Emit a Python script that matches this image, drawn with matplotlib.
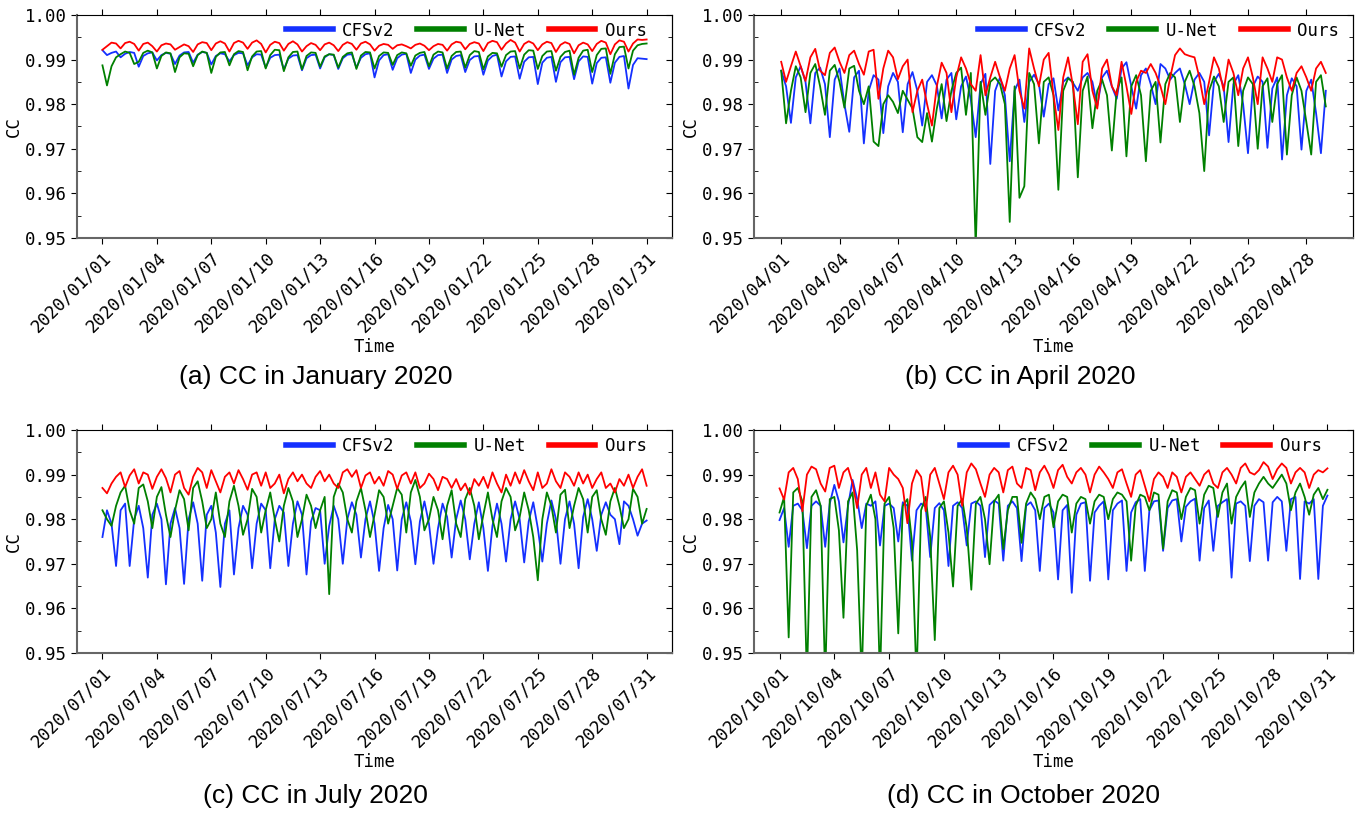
import numpy as np
import pandas as pd
import matplotlib
matplotlib.use("Agg")
import matplotlib.pyplot as plt
import matplotlib.dates as mdates
from matplotlib.ticker import MultipleLocator, FormatStrFormatter

# CC values every 6 hours, stored as (CC - 0.9) * 10000
jan_cfs = [
    921, 910, 915, 918, 905, 913, 917, 915,
    884, 908, 914, 916, 898, 910, 915, 913,
    890, 909, 916, 917, 893, 911, 917, 915,
    889, 908, 914, 912, 896, 910, 915, 914,
    887, 905, 912, 911, 882, 904, 910, 911,
    878, 902, 909, 910, 876, 903, 910, 911,
    880, 905, 912, 910, 879, 903, 911, 912,
    882, 904, 912, 914, 860, 898, 910, 912,
    877, 903, 911, 913, 870, 900, 909, 911,
    879, 902, 910, 911, 870, 900, 908, 910,
    872, 899, 907, 908, 866, 898, 908, 911,
    862, 896, 906, 907, 857, 895, 905, 906,
    845, 893, 904, 906, 850, 894, 905, 906,
    856, 896, 907, 906, 846, 892, 904, 905,
    848, 893, 906, 908, 835, 888, 903, 902,
    901]
jan_unet = [
    887, 842, 885, 905, 912, 918, 915, 890,
    895, 915, 920, 916, 880, 908, 916, 914,
    872, 905, 914, 913, 885, 910, 918, 915,
    870, 906, 916, 917, 887, 912, 919, 917,
    876, 907, 918, 919, 880, 910, 922, 921,
    874, 905, 917, 918, 878, 908, 916, 915,
    884, 907, 912, 911, 882, 906, 914, 916,
    879, 909, 917, 916, 880, 908, 916, 915,
    888, 910, 916, 914, 886, 909, 915, 917,
    885, 911, 918, 916, 880, 908, 917, 918,
    882, 910, 919, 917, 878, 907, 915, 914,
    884, 910, 918, 919, 880, 911, 921, 920,
    879, 908, 918, 919, 875, 906, 917, 920,
    866, 904, 920, 922, 872, 910, 924, 925,
    868, 912, 928, 929, 880, 920, 932, 935,
    936]
jan_ours = [
    922, 930, 938, 936, 925, 937, 940, 935,
    920, 935, 938, 930, 918, 932, 936, 934,
    922, 928, 934, 930, 917, 934, 939, 937,
    921, 936, 941, 936, 918, 937, 942, 938,
    924, 938, 943, 935, 916, 933, 940, 937,
    920, 935, 941, 934, 918, 930, 937, 933,
    921, 934, 938, 932, 919, 933, 939, 935,
    922, 936, 940, 934, 920, 931, 935, 933,
    924, 932, 934, 930, 925, 933, 936, 931,
    921, 930, 935, 933, 920, 934, 940, 938,
    923, 935, 939, 936, 919, 937, 942, 939,
    922, 936, 944, 938, 918, 935, 941, 936,
    921, 934, 940, 937, 917, 933, 939, 935,
    914, 932, 938, 934, 919, 935, 942, 938,
    912, 934, 943, 940, 918, 936, 945, 944,
    945]

apr_cfs = [
    875, 840, 758, 860, 885, 850, 757, 870,
    882, 845, 726, 855, 880, 800, 738, 860,
    875, 712, 830, 865, 855, 735, 840, 870,
    850, 737, 845, 872, 830, 752, 850, 865,
    842, 768, 855, 870, 766, 840, 862, 810,
    726, 845, 868, 666, 830, 860, 820, 672,
    830, 855, 760, 850, 866, 845, 772, 845,
    858, 786, 850, 860, 848, 830, 860, 870,
    850, 796, 860, 875, 840, 812, 880, 894,
    840, 790, 865, 880, 845, 800, 890, 880,
    855, 870, 880, 845, 800, 855, 870, 850,
    730, 850, 868, 840, 715, 845, 865, 800,
    690, 840, 862, 850, 702, 835, 860, 676,
    820, 858, 840, 698, 830, 855, 780, 690,
    830]
apr_unet = [
    875, 757, 830, 885, 860, 782, 870, 890,
    840, 776, 875, 888, 850, 792, 880, 886,
    830, 800, 840, 716, 706, 800, 820, 805,
    780, 830, 810, 790, 726, 715, 780, 716,
    790, 845, 762, 830, 870, 882, 776, 870,
    480, 850, 776, 850, 860, 845, 800, 536,
    840, 590, 616, 870, 845, 712, 850, 860,
    820, 608, 830, 858, 850, 636, 830, 862,
    746, 830, 855, 820, 696, 830, 860, 683,
    840, 865, 820, 672, 830, 850, 714, 845,
    870, 860, 760, 850, 875, 840, 780, 650,
    830, 862, 840, 760, 850, 860, 706, 830,
    860, 845, 700, 840, 858, 760, 845, 865,
    687, 820, 860, 830, 760, 687, 850, 865,
    795]
apr_ours = [
    895, 850, 885, 918, 885, 852, 905, 924,
    875, 865, 915, 927, 895, 870, 910, 920,
    890, 866, 918, 922, 812, 880, 920, 905,
    856, 885, 900, 782, 830, 855, 800, 752,
    840, 893, 870, 782, 860, 905, 880, 845,
    830, 910, 820, 860, 895, 860, 830, 880,
    910, 830, 790, 925, 880, 840, 900, 915,
    820, 742, 860, 905, 840, 755, 895, 912,
    830, 790, 880, 900, 840, 820, 895, 840,
    778, 850, 875, 870, 890, 870, 840, 800,
    860, 910, 925, 912, 908, 905, 860, 800,
    850, 905, 880, 830, 900, 870, 820, 880,
    905, 860, 800, 905, 880, 850, 905, 900,
    860, 830, 870, 885, 860, 830, 880, 895,
    870]

jul_cfs = [
    760, 820, 790, 695, 820, 835, 695, 800,
    830, 780, 669, 810, 835, 800, 654, 790,
    825, 780, 655, 800, 838, 790, 662, 810,
    830, 770, 648, 790, 820, 676, 780, 830,
    810, 690, 790, 835, 820, 690, 800, 830,
    815, 695, 790, 840, 810, 676, 795, 825,
    820, 700, 785, 830, 800, 700, 800, 838,
    810, 714, 800, 840, 790, 684, 780, 832,
    800, 685, 800, 838, 795, 699, 795, 840,
    790, 700, 780, 835, 805, 714, 800, 842,
    800, 710, 790, 838, 780, 684, 785, 835,
    790, 705, 800, 840, 800, 703, 795, 838,
    780, 705, 790, 842, 800, 700, 800, 840,
    790, 690, 805, 845, 800, 729, 810, 838,
    810, 800, 744, 840, 830, 800, 763, 790,
    797]
jul_unet = [
    820, 800, 785, 830, 860, 875, 820, 790,
    870, 878, 840, 780, 850, 872, 810, 760,
    820, 865, 845, 775, 870, 885, 840, 780,
    800, 860, 790, 760, 840, 875, 830, 765,
    800, 868, 850, 770, 820, 860, 800, 750,
    830, 870, 840, 760, 800, 855, 830, 780,
    820, 850, 632, 850, 880, 860, 800, 770,
    840, 870, 820, 760, 810, 865, 850, 790,
    830, 870, 855, 770, 860, 888, 850, 775,
    800, 850, 820, 755, 830, 865, 790, 760,
    845, 870, 830, 755, 810, 860, 800, 760,
    840, 870, 850, 775, 805, 860, 820, 760,
    663, 800, 860, 830, 770, 855, 866, 780,
    830, 870, 845, 770, 850, 865, 800, 765,
    840, 870, 830, 780, 800, 868, 850, 790,
    823]
jul_ours = [
    870, 858, 880, 895, 905, 872, 898, 912,
    880, 905, 900, 868, 895, 912, 892, 860,
    900, 908, 870, 855, 895, 915, 905, 870,
    910, 885, 860, 895, 905, 880, 910, 890,
    866, 900, 905, 875, 905, 870, 880, 900,
    858, 890, 905, 885, 900, 880, 870, 895,
    908, 885, 900, 880, 870, 905, 912, 895,
    910, 870, 898, 905, 880, 895, 875, 908,
    900, 868, 898, 905, 880, 905, 870, 880,
    902, 890, 865, 895, 890, 870, 890, 865,
    880, 855, 890, 875, 895, 870, 905, 880,
    860, 900, 875, 905, 880, 910, 885, 865,
    905, 870, 880, 912, 885, 870, 905, 895,
    875, 905, 880, 900, 870, 890, 905, 870,
    880, 860, 890, 875, 900, 870, 895, 912,
    875]

oct_cfs = [
    798, 825, 738, 830, 835, 820, 735, 830,
    840, 830, 738, 835, 877, 840, 748, 830,
    888, 845, 780, 835, 830, 840, 741, 830,
    835, 825, 750, 838, 830, 707, 820, 835,
    828, 715, 825, 836, 820, 695, 830, 838,
    825, 741, 835, 840, 830, 715, 832, 842,
    835, 707, 830, 840, 825, 706, 830, 838,
    820, 684, 825, 835, 815, 665, 820, 832,
    635, 810, 835, 838, 662, 815, 830, 840,
    665, 820, 835, 842, 684, 815, 838, 845,
    684, 820, 840, 842, 729, 825, 842, 845,
    750, 828, 840, 846, 707, 825, 842, 729,
    830, 838, 845, 669, 835, 840, 830, 706,
    830, 845, 838, 707, 838, 850, 840, 729,
    845, 850, 666, 840, 835, 845, 666, 830,
    853]
oct_unet = [
    815, 850, 535, 860, 870, 840, 440, 850,
    865, 830, 440, 845, 850, 775, 579, 840,
    860, 730, 440, 830, 855, 800, 440, 835,
    850, 780, 544, 830, 845, 750, 440, 820,
    850, 760, 529, 825, 840, 770, 649, 830,
    845, 780, 642, 835, 850, 800, 699, 840,
    855, 733, 820, 850, 850, 747, 835, 860,
    845, 800, 850, 855, 782, 840, 855, 850,
    770, 835, 850, 845, 790, 840, 855, 850,
    800, 845, 860, 855, 840, 707, 830, 855,
    850, 820, 860, 855, 734, 840, 865, 860,
    800, 850, 870, 865, 790, 855, 875, 870,
    805, 860, 880, 790, 850, 870, 885, 805,
    860, 880, 895, 880, 870, 885, 900, 880,
    820, 860, 880, 850, 810, 855, 870, 845,
    866]
oct_ours = [
    869, 844, 905, 915, 890, 818, 900, 918,
    912, 880, 862, 915, 920, 870, 905, 915,
    880, 825, 900, 915, 870, 905, 855, 840,
    915, 900, 890, 870, 791, 880, 910, 895,
    818, 900, 915, 880, 845, 905, 920, 900,
    830, 905, 925, 912, 880, 850, 900, 915,
    905, 860, 910, 918, 880, 870, 915, 910,
    865, 905, 920, 900, 870, 910, 922, 895,
    880, 905, 915, 900, 860, 900, 918, 905,
    890, 870, 905, 912, 880, 850, 900, 910,
    875, 840, 890, 905, 895, 870, 905, 895,
    860, 895, 905, 890, 875, 900, 910, 880,
    870, 905, 915, 900, 880, 915, 925, 905,
    900, 910, 928, 918, 890, 912, 925, 915,
    880, 905, 915, 905, 870, 900, 910, 905,
    914]

months = ["2020-01-01", "2020-04-01", "2020-07-01", "2020-10-01"]
captions = ["(a) CC in January 2020", "(b) CC in April 2020",
            "(c) CC in July 2020", "(d) CC in October 2020"]
series = [(jan_cfs, jan_unet, jan_ours), (apr_cfs, apr_unet, apr_ours),
          (jul_cfs, jul_unet, jul_ours), (oct_cfs, oct_unet, oct_ours)]
names = ["CFSv2", "U-Net", "Ours"]
colors = ["#1430ff", "#008000", "#ff0000"]

mono = "DejaVu Sans Mono"
fs = 12.5

fig = plt.figure(figsize=(13.59, 8.13), dpi=100)
boxes = [[0.0567, 0.7073, 0.4378, 0.2743], [0.5548, 0.7073, 0.4408, 0.2743],
         [0.0567, 0.1968, 0.4378, 0.2743], [0.5548, 0.1968, 0.4408, 0.2743]]
leg_x = [0.958, 0.977, 0.958, 0.948]
cap_pos = [(0.232, 0.536), (0.751, 0.536), (0.232, 0.021), (0.753, 0.021)]

for k in range(4):
    ax = fig.add_axes(boxes[k])
    n = len(series[k][0])
    t = pd.date_range(months[k], periods=n, freq="6h")
    for vals, name, c in zip(series[k], names, colors):
        cc = 0.9 + np.array(vals) / 10000.0
        ax.plot(t, cc, color=c, lw=1.3, label=name)

    ax.set_ylim(0.95, 1.0)
    ax.set_xlim(t[0] - pd.Timedelta(days=1.4), t[-1] + pd.Timedelta(days=1.4))
    ticks = pd.date_range(months[k], t[-1], freq="3D")
    ax.set_xticks(ticks)
    ax.xaxis.set_major_formatter(mdates.DateFormatter("%Y/%m/%d"))
    ax.yaxis.set_major_locator(MultipleLocator(0.01))
    ax.yaxis.set_minor_locator(MultipleLocator(0.005))
    ax.yaxis.set_major_formatter(FormatStrFormatter("%.2f"))

    ax.tick_params(axis="both", which="major", direction="out", length=4,
                   labelsize=fs, top=True)
    ax.tick_params(axis="y", which="minor", direction="in", length=3)
    for lab in ax.get_xticklabels() + ax.get_yticklabels():
        lab.set_family(mono)
    plt.setp(ax.get_xticklabels(), rotation=45, ha="right",
             rotation_mode="anchor")

    sec = ax.secondary_yaxis("right")
    sec.yaxis.set_major_locator(MultipleLocator(0.01))
    sec.yaxis.set_minor_locator(MultipleLocator(0.005))
    sec.tick_params(which="major", direction="in", length=4, labelright=False)
    sec.tick_params(which="minor", direction="in", length=3)

    for s in ["left", "bottom"]:
        ax.spines[s].set_color("#666666")
        ax.spines[s].set_linewidth(1.5)

    ax.set_xlabel("Time", family=mono, fontsize=fs)
    ax.xaxis.set_label_coords(0.5, -0.45)
    ax.set_ylabel("CC", family=mono, fontsize=fs)
    ax.yaxis.set_label_coords(-0.091, 0.5)

    leg = ax.legend(ncol=3, loc="center right", bbox_to_anchor=(leg_x[k], 0.93),
                    frameon=False, handlelength=2.7, handletextpad=0.55,
                    columnspacing=1.3, borderpad=0, borderaxespad=0,
                    prop={"family": mono, "size": fs})
    for ln in leg.get_lines():
        ln.set_linewidth(4)

    fig.text(cap_pos[k][0], cap_pos[k][1], captions[k], ha="center", va="center",
             fontsize=19, family="Liberation Sans")

fig.savefig("out.png", dpi=100)
